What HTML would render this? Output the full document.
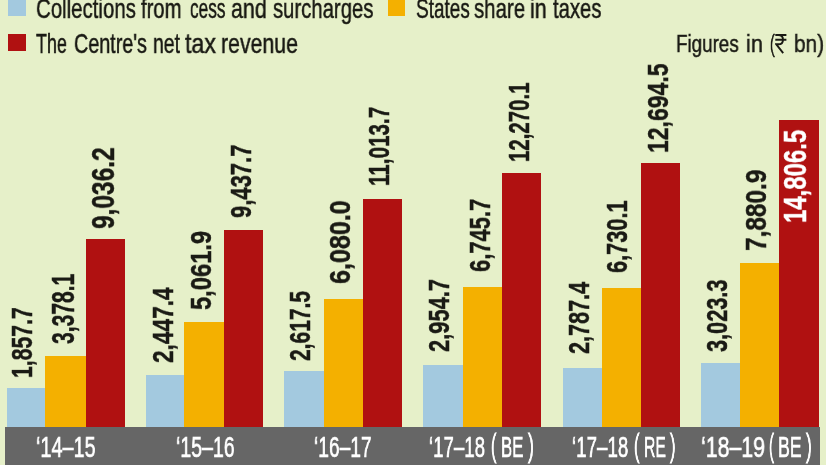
<!DOCTYPE html>
<html><head><meta charset="utf-8"><title>Tax revenue</title>
<style>
html,body{margin:0;padding:0;}
body{width:826px;height:465px;overflow:hidden;background:#e6f0c9;position:relative;font-family:"Liberation Sans",sans-serif;color:#1a1a14;}
.b{position:absolute;}
.t{position:absolute;white-space:nowrap;transform-origin:0 0;margin:0;padding:0;will-change:transform;}
.v{font-weight:bold;-webkit-text-stroke:0.45px currentColor;}
.f{-webkit-text-stroke:0.65px currentColor;}
.l{-webkit-text-stroke:0.5px currentColor;}
.p{-webkit-text-stroke:0.9px currentColor;}
</style></head><body>

<div class="b" style="left:7.60px;top:-2.00px;width:18.20px;height:18.10px;background:#a3c9df"></div>
<div class="b" style="left:387.90px;top:-2.00px;width:17.50px;height:18.10px;background:#f4b000"></div>
<div class="b" style="left:7.60px;top:33.50px;width:18.20px;height:17.60px;background:#b01111"></div>
<div class="t l" style="left:35.50px;top:-4.62px;font-size:27.20px;line-height:27.20px;color:#1a1a14;transform:scaleX(0.7511)">Collections</div>
<div class="t l" style="left:140.90px;top:-4.62px;font-size:27.20px;line-height:27.20px;color:#1a1a14;transform:scaleX(0.7445)">from</div>
<div class="t l" style="left:189.50px;top:-4.62px;font-size:27.20px;line-height:27.20px;color:#1a1a14;transform:scaleX(0.6351)">cess</div>
<div class="t l" style="left:231.10px;top:-4.62px;font-size:27.20px;line-height:27.20px;color:#1a1a14;transform:scaleX(0.7881)">and</div>
<div class="t l" style="left:273.00px;top:-4.62px;font-size:27.20px;line-height:27.20px;color:#1a1a14;transform:scaleX(0.7464)">surcharges</div>
<div class="t l" style="left:415.80px;top:-4.62px;font-size:27.20px;line-height:27.20px;color:#1a1a14;transform:scaleX(0.6990)">States</div>
<div class="t l" style="left:473.80px;top:-4.62px;font-size:27.20px;line-height:27.20px;color:#1a1a14;transform:scaleX(0.7515)">share</div>
<div class="t l" style="left:530.30px;top:-4.62px;font-size:27.20px;line-height:27.20px;color:#1a1a14;transform:scaleX(0.7871)">in</div>
<div class="t l" style="left:552.90px;top:-4.62px;font-size:27.20px;line-height:27.20px;color:#1a1a14;transform:scaleX(0.7445)">taxes</div>
<div class="t l" style="left:35.50px;top:29.78px;font-size:27.20px;line-height:27.20px;color:#1a1a14;transform:scaleX(0.6586)">The</div>
<div class="t l" style="left:73.60px;top:29.78px;font-size:27.20px;line-height:27.20px;color:#1a1a14;transform:scaleX(0.7263)">Centre's</div>
<div class="t l" style="left:152.50px;top:29.78px;font-size:27.20px;line-height:27.20px;color:#1a1a14;transform:scaleX(0.7141)">net</div>
<div class="t l" style="left:184.80px;top:29.78px;font-size:27.20px;line-height:27.20px;color:#1a1a14;transform:scaleX(0.8510)">tax</div>
<div class="t l" style="left:221.40px;top:29.78px;font-size:27.20px;line-height:27.20px;color:#1a1a14;transform:scaleX(0.7821)">revenue</div>
<div class="t l" style="left:676.10px;top:31.95px;font-size:24.40px;line-height:24.40px;color:#1a1a14;transform:scaleX(0.7705)">Figures</div>
<div class="t l" style="left:746.00px;top:31.95px;font-size:24.40px;line-height:24.40px;color:#1a1a14;transform:scaleX(0.8880)">in</div>
<div class="t l" style="left:769.90px;top:31.95px;font-size:24.40px;line-height:24.40px;color:#1a1a14;transform:scaleX(0.5872)">(</div>
<div class="t l" style="left:794.20px;top:31.95px;font-size:24.40px;line-height:24.40px;color:#1a1a14;transform:scaleX(0.8509)">bn)</div>
<svg class="b" style="left:775px;top:33px" width="13" height="22" viewBox="0 0 13 22"><path d="M0.3 2H11.4M0.3 6.7H11.4M0.3 2H3.4C6.8 2 8 4 8 6.7C8 9.3 6.8 11.3 3.4 11.3H1.3L8.2 20.2" fill="none" stroke="#1a1a14" stroke-width="1.9"/></svg>
<div class="b" style="left:6.50px;top:388.10px;width:39.20px;height:39.80px;background:#a3c9df"></div>
<div class="b" style="left:45.40px;top:356.10px;width:40.80px;height:71.80px;background:#f4b000"></div>
<div class="b" style="left:85.90px;top:238.90px;width:38.70px;height:189.00px;background:#b01111"></div>
<div class="t v" style="left:7.30px;top:377.60px;font-size:29.66px;line-height:29.66px;color:#1a1a14;transform:rotate(-90deg) scaleX(0.7147)">1,857.7</div>
<div class="t v" style="left:48.07px;top:344.00px;font-size:30.51px;line-height:30.51px;color:#1a1a14;transform:rotate(-90deg) scaleX(0.6909)">3,378.1</div>
<div class="t v" style="left:87.55px;top:228.80px;font-size:30.65px;line-height:30.65px;color:#1a1a14;transform:rotate(-90deg) scaleX(0.7983)">9,036.2</div>
<div class="b" style="left:145.50px;top:375.20px;width:38.90px;height:52.70px;background:#a3c9df"></div>
<div class="b" style="left:184.10px;top:322.00px;width:40.60px;height:105.90px;background:#f4b000"></div>
<div class="b" style="left:224.40px;top:230.40px;width:38.70px;height:197.50px;background:#b01111"></div>
<div class="t v" style="left:147.57px;top:363.40px;font-size:29.80px;line-height:29.80px;color:#1a1a14;transform:rotate(-90deg) scaleX(0.7606)">2,447.4</div>
<div class="t v" style="left:186.47px;top:309.90px;font-size:29.80px;line-height:29.80px;color:#1a1a14;transform:rotate(-90deg) scaleX(0.7969)">5,061.9</div>
<div class="t v" style="left:226.98px;top:217.50px;font-size:29.10px;line-height:29.10px;color:#1a1a14;transform:rotate(-90deg) scaleX(0.7564)">9,437.7</div>
<div class="b" style="left:284.20px;top:371.30px;width:40.10px;height:56.60px;background:#a3c9df"></div>
<div class="b" style="left:324.00px;top:299.00px;width:39.60px;height:128.90px;background:#f4b000"></div>
<div class="b" style="left:363.30px;top:198.70px;width:38.50px;height:229.20px;background:#b01111"></div>
<div class="t v" style="left:285.92px;top:360.60px;font-size:28.81px;line-height:28.81px;color:#1a1a14;transform:rotate(-90deg) scaleX(0.7295)">2,617.5</div>
<div class="t v" style="left:325.76px;top:284.40px;font-size:29.24px;line-height:29.24px;color:#1a1a14;transform:rotate(-90deg) scaleX(0.8574)">6,080.0</div>
<div class="t v" style="left:364.43px;top:185.50px;font-size:30.08px;line-height:30.08px;color:#1a1a14;transform:rotate(-90deg) scaleX(0.6864)">11,013.7</div>
<div class="b" style="left:422.80px;top:364.50px;width:40.10px;height:63.40px;background:#a3c9df"></div>
<div class="b" style="left:462.60px;top:286.70px;width:39.70px;height:141.20px;background:#f4b000"></div>
<div class="b" style="left:502.00px;top:172.60px;width:38.60px;height:255.30px;background:#b01111"></div>
<div class="t v" style="left:423.70px;top:352.10px;font-size:29.66px;line-height:29.66px;color:#1a1a14;transform:rotate(-90deg) scaleX(0.7380)">2,954.7</div>
<div class="t v" style="left:466.04px;top:272.20px;font-size:28.67px;line-height:28.67px;color:#1a1a14;transform:rotate(-90deg) scaleX(0.7655)">6,745.7</div>
<div class="t v" style="left:505.02px;top:161.80px;font-size:28.81px;line-height:28.81px;color:#1a1a14;transform:rotate(-90deg) scaleX(0.7093)">12,270.1</div>
<div class="b" style="left:562.60px;top:368.20px;width:39.40px;height:59.70px;background:#a3c9df"></div>
<div class="b" style="left:601.70px;top:287.50px;width:39.10px;height:140.40px;background:#f4b000"></div>
<div class="b" style="left:640.50px;top:163.20px;width:39.10px;height:264.70px;background:#b01111"></div>
<div class="t v" style="left:563.77px;top:353.80px;font-size:29.80px;line-height:29.80px;color:#1a1a14;transform:rotate(-90deg) scaleX(0.7254)">2,787.4</div>
<div class="t v" style="left:601.80px;top:273.20px;font-size:29.66px;line-height:29.66px;color:#1a1a14;transform:rotate(-90deg) scaleX(0.7329)">6,730.1</div>
<div class="t v" style="left:643.11px;top:153.20px;font-size:30.23px;line-height:30.23px;color:#1a1a14;transform:rotate(-90deg) scaleX(0.7619)">12,694.5</div>
<div class="b" style="left:701.40px;top:363.10px;width:38.70px;height:64.80px;background:#a3c9df"></div>
<div class="b" style="left:739.80px;top:262.90px;width:39.80px;height:165.00px;background:#f4b000"></div>
<div class="b" style="left:779.30px;top:119.50px;width:39.70px;height:308.40px;background:#b01111"></div>
<div class="t v" style="left:702.07px;top:352.10px;font-size:29.80px;line-height:29.80px;color:#1a1a14;transform:rotate(-90deg) scaleX(0.7294)">3,023.3</div>
<div class="t v" style="left:742.04px;top:251.40px;font-size:28.67px;line-height:28.67px;color:#1a1a14;transform:rotate(-90deg) scaleX(0.8513)">7,880.9</div>
<div class="t v" style="left:780.09px;top:222.50px;font-size:31.07px;line-height:31.07px;color:#fff;transform:rotate(-90deg) scaleX(0.7701)">14,806.5</div>
<div class="b" style="left:5.10px;top:426.90px;width:814.90px;height:39.10px;background:#666666"></div>
<div class="t f" style="left:36.30px;top:433.28px;font-size:29.20px;line-height:29.20px;color:#fff;transform:scaleX(0.6792)">‘14–15</div>
<div class="t f" style="left:176.30px;top:433.28px;font-size:29.20px;line-height:29.20px;color:#fff;transform:scaleX(0.6678)">‘15–16</div>
<div class="t f" style="left:314.10px;top:433.28px;font-size:29.20px;line-height:29.20px;color:#fff;transform:scaleX(0.6564)">‘16–17</div>
<div class="t f" style="left:429.30px;top:433.28px;font-size:29.20px;line-height:29.20px;color:#fff;transform:scaleX(0.6382)">‘17–18</div>
<div class="t p" style="left:491.20px;top:430.36px;font-size:31.00px;line-height:31.00px;color:#fff;transform:scaleX(0.5200)">(</div>
<div class="t f" style="left:501.00px;top:433.28px;font-size:29.20px;line-height:29.20px;color:#fff;transform:scaleX(0.5746)">BE</div>
<div class="t p" style="left:527.60px;top:430.36px;font-size:31.00px;line-height:31.00px;color:#fff;transform:scaleX(0.5778)">)</div>
<div class="t f" style="left:571.50px;top:433.28px;font-size:29.20px;line-height:29.20px;color:#fff;transform:scaleX(0.6416)">‘17–18</div>
<div class="t p" style="left:634.20px;top:430.36px;font-size:31.00px;line-height:31.00px;color:#fff;transform:scaleX(0.5296)">(</div>
<div class="t f" style="left:643.90px;top:433.28px;font-size:29.20px;line-height:29.20px;color:#fff;transform:scaleX(0.5420)">RE</div>
<div class="t p" style="left:669.80px;top:430.36px;font-size:31.00px;line-height:31.00px;color:#fff;transform:scaleX(0.5296)">)</div>
<div class="t f" style="left:701.30px;top:433.28px;font-size:29.20px;line-height:29.20px;color:#fff;transform:scaleX(0.7294)">‘18–19</div>
<div class="t p" style="left:769.10px;top:430.36px;font-size:31.00px;line-height:31.00px;color:#fff;transform:scaleX(0.4815)">(</div>
<div class="t f" style="left:778.40px;top:433.28px;font-size:29.20px;line-height:29.20px;color:#fff;transform:scaleX(0.6080)">BE</div>
<div class="t p" style="left:806.00px;top:430.36px;font-size:31.00px;line-height:31.00px;color:#fff;transform:scaleX(0.5585)">)</div>
</body></html>
